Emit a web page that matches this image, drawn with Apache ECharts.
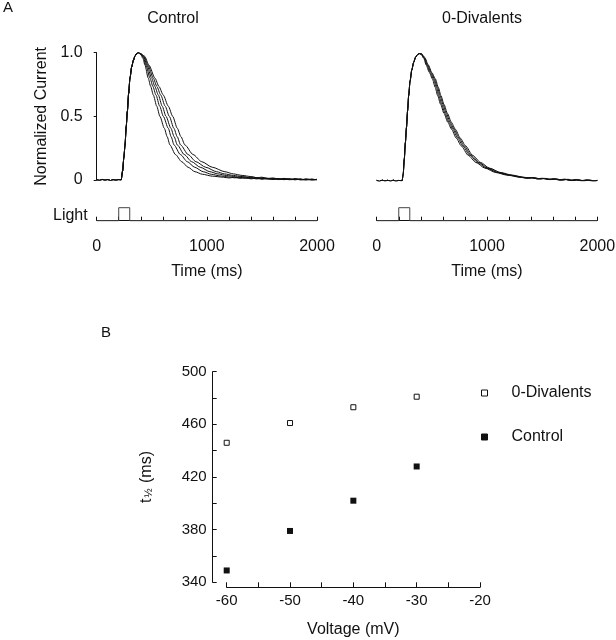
<!DOCTYPE html>
<html><head><meta charset="utf-8">
<script src="https://cdn.jsdelivr.net/npm/echarts@6/dist/echarts.min.js"></script>
<style>html,body{margin:0;padding:0;background:#fff}#c{width:616px;height:640px}</style>
</head><body><div id="c"></div>
<script>
const FONT = '"Liberation Sans", Arial, Helvetica, sans-serif';
const INK = '#111';

// ---------- Panel A: light stimulus (time ms, on/off) ----------
const lightStep = [[0,0],[200,0],[200,1],[300,1],[300,0],[2000,0]];

// ---------- Panel A: Control traces (time ms, normalized current) ----------
const controlRise = [[0,0.002],[25,-0.003],[50,0.004],[75,-0.002],[100,0.003],[125,-0.004],[150,0.002],[175,-0.002],[200,0.003],[222,0],[235,0.07],[247,0.18],[257,0.275],[268,0.42],[278,0.537],[290,0.68],[302,0.80],[318,0.89],[333,0.94],[348,0.975],[363,0.993],[378,1.0]];
const control1 = [[400,0.985],[420,0.955],[438,0.903],[468,0.80],[490,0.735],[514,0.668],[545,0.58],[574,0.5],[614,0.406],[640,0.34],[665,0.275],[715,0.2],[771,0.144],[830,0.1],[892,0.065],[960,0.045],[1050,0.03],[1150,0.022],
  [1200,0.016],[1250,0.021],[1300,0.013],[1350,0.017],[1400,0.009],[1450,0.014],[1500,0.006],[1550,0.012],[1600,0.004],[1650,0.01],[1700,0.002],[1750,0.009],[1800,0.001],[1850,0.008],[1900,-0.002],[1950,0.006],[2000,0.0]];
const control2 = [[400,0.99],[422,0.965],[447,0.903],[484,0.80],[510,0.735],[538,0.668],[572,0.58],[605,0.5],[650,0.406],[676,0.34],[702,0.275],[760,0.2],[822,0.144],[890,0.1],[967,0.065],[1040,0.045],[1120,0.032],[1200,0.024],
  [1250,0.017],[1300,0.022],[1350,0.013],[1400,0.018],[1450,0.008],[1500,0.015],[1550,0.006],[1600,0.011],[1650,0.003],[1700,0.009],[1750,0.001],[1800,0.008],[1850,0.0],[1900,0.006],[1950,-0.002],[2000,0.004]];
const control3 = [[400,0.99],[426,0.968],[456,0.903],[499,0.80],[528,0.735],[559,0.668],[595,0.58],[629,0.5],[674,0.406],[703,0.34],[732,0.275],[795,0.2],[862,0.144],[940,0.1],[1028,0.065],[1100,0.048],[1180,0.035],[1260,0.026],
  [1300,0.021],[1350,0.024],[1400,0.014],[1450,0.018],[1500,0.009],[1550,0.014],[1600,0.005],[1650,0.011],[1700,0.003],[1750,0.01],[1800,0.001],[1850,0.008],[1900,0.0],[1950,0.007],[2000,0.001]];
const control4 = [[400,0.992],[430,0.97],[465,0.903],[514,0.80],[546,0.735],[581,0.668],[622,0.58],[659,0.5],[701,0.406],[731,0.34],[762,0.275],[830,0.2],[901,0.144],[990,0.1],[1089,0.065],[1160,0.048],[1240,0.036],[1320,0.027],
  [1370,0.02],[1420,0.023],[1470,0.013],[1520,0.017],[1570,0.008],[1620,0.013],[1670,0.004],[1720,0.011],[1770,0.002],[1820,0.009],[1870,-0.001],[1920,0.007],[1970,0.0],[2000,0.005]];
const control5 = [[400,0.993],[435,0.972],[474,0.903],[529,0.80],[565,0.735],[604,0.668],[650,0.58],[690,0.5],[732,0.406],[765,0.34],[801,0.275],[875,0.2],[953,0.144],[1050,0.1],[1164,0.065],[1240,0.048],[1320,0.036],[1400,0.027],
  [1450,0.018],[1500,0.022],[1550,0.012],[1600,0.016],[1650,0.007],[1700,0.013],[1750,0.003],[1800,0.011],[1850,0.001],[1900,0.009],[1950,-0.001],[2000,0.006]];

// ---------- Panel A: 0-Divalents traces ----------
const divRise = [[0,0.003],[25,-0.004],[50,0.005],[75,-0.002],[100,0.004],[125,-0.003],[150,0.005],[175,-0.004],[200,0.003],[230,0],[240,0.05],[250,0.17],[260,0.3],[270,0.42],[280,0.55],[290,0.67],[302,0.78],[318,0.87],[335,0.93],[352,0.97],[368,0.99],[385,1.0]];
const div1 = [[405,0.99],[428,0.96],[448,0.91],[478,0.85],[505,0.80],[530,0.735],[553,0.668],[580,0.6],[610,0.53],[645,0.46],[678,0.406],[722,0.335],[766,0.275],[830,0.2],[900,0.144],[980,0.1],[1080,0.065],[1180,0.045],[1300,0.028],
  [1350,0.022],[1400,0.025],[1450,0.016],[1500,0.02],[1550,0.011],[1600,0.016],[1650,0.007],[1700,0.013],[1750,0.003],[1800,0.01],[1850,0.0],[1900,0.008],[1950,-0.003],[2000,0.004]];
const div2 = [[405,0.995],[430,0.965],[455,0.91],[486,0.85],[515,0.80],[541,0.735],[563,0.668],[590,0.6],[620,0.53],[655,0.46],[690,0.406],[735,0.335],[780,0.275],[845,0.2],[915,0.144],[995,0.1],[1095,0.065],[1195,0.045],[1310,0.028],
  [1360,0.02],[1410,0.024],[1460,0.014],[1510,0.019],[1560,0.01],[1610,0.015],[1660,0.005],[1710,0.012],[1760,0.002],[1810,0.009],[1860,-0.002],[1910,0.006],[1960,-0.004],[2000,0.003]];
const div3 = [[405,0.995],[432,0.965],[462,0.91],[494,0.85],[524,0.80],[550,0.735],[574,0.668],[601,0.6],[631,0.53],[666,0.46],[701,0.406],[747,0.335],[792,0.275],[857,0.2],[928,0.144],[1008,0.1],[1110,0.065],[1210,0.045],[1320,0.028],
  [1370,0.021],[1420,0.025],[1470,0.015],[1520,0.019],[1570,0.009],[1620,0.015],[1670,0.006],[1720,0.011],[1770,0.001],[1820,0.009],[1870,-0.001],[1920,0.007],[1970,-0.003],[2000,0.002]];
const div4 = [[405,1.0],[435,0.97],[468,0.91],[500,0.85],[532,0.80],[558,0.735],[583,0.668],[610,0.6],[641,0.53],[677,0.46],[712,0.406],[758,0.335],[805,0.275],[870,0.2],[942,0.144],[1022,0.1],[1125,0.065],[1225,0.045],[1335,0.028],
  [1385,0.022],[1435,0.024],[1485,0.014],[1535,0.019],[1585,0.01],[1635,0.014],[1685,0.005],[1735,0.012],[1785,0.002],[1835,0.008],[1885,-0.002],[1935,0.006],[1985,-0.003],[2000,0.001]];

// ---------- Panel B ----------
const voltages = [-60, -50, -40, -30];
const t12Divalents = [446, 461, 473, 481];
const t12Control = [349, 379, 402, 428];

// tick labels
const currentTickLabels = {0: '0', 0.5: '0.5', 1: '1.0'};
const timeTickLabels = ['0', '1000', '2000'];
const voltTickLabels = ['-60', '-50', '-40', '-30', '-20'];
const t12TickLabels = ['340', '380', '420', '460', '500'];

const controlTraces = [control1, control2, control3, control4, control5];
const divTraces = [div1, div2, div3, div4];

const axisLineStyle = {color: INK, width: 1};
const txt = {color: INK, fontFamily: FONT};

function traceSeries(rise, trace, gi) {
  return {type: 'line', xAxisIndex: gi, yAxisIndex: gi, data: rise.concat(trace),
    showSymbol: false, symbol: 'none', smooth: 0.25, smoothMonotone: 'x',
    lineStyle: {color: INK, width: 1}, silent: true, z: 3};
}
function lightSeries(gi) {
  return {type: 'line', xAxisIndex: gi, yAxisIndex: gi, data: lightStep, showSymbol: false, symbol: 'none',
    lineStyle: {color: '#444', width: 1}, silent: true, clip: false};
}
function timeAxis(gi, show) {
  return {type: 'value', gridIndex: gi, min: 0, max: 2000, interval: 200, show: show,
    offset: 12,
    axisLine: {show: true, lineStyle: axisLineStyle},
    axisTick: {show: true, inside: true, length: 4, lineStyle: axisLineStyle},
    axisLabel: {show: true, margin: 6, fontSize: 16, ...txt,
      formatter: v => (v % 1000 === 0 ? timeTickLabels[v / 1000] : '')},
    splitLine: {show: false},
    name: 'Time (ms)', nameLocation: 'middle', nameGap: 31,
    nameTextStyle: {fontSize: 16, ...txt}};
}
function hiddenX(gi) {
  return {type: 'value', gridIndex: gi, min: 0, max: 2000, show: false, splitLine: {show: false}};
}
function hiddenY(gi, min, max) {
  return {type: 'value', gridIndex: gi, min: min, max: max, show: false, splitLine: {show: false}};
}

const series = [];
controlTraces.forEach(t => series.push(traceSeries(controlRise, t, 0)));
series.push(lightSeries(1));
divTraces.forEach(t => series.push(traceSeries(divRise, t, 2)));
series.push(lightSeries(3));
series.push({name: '0-Divalents', type: 'scatter', xAxisIndex: 4, yAxisIndex: 4,
  data: voltages.map((v, i) => [v, t12Divalents[i]]), symbol: 'rect', symbolSize: 5,
  itemStyle: {color: '#fff', borderColor: INK, borderWidth: 1, opacity: 1}});
series.push({name: 'Control', type: 'scatter', xAxisIndex: 4, yAxisIndex: 4,
  data: voltages.map((v, i) => [v, t12Control[i]]), symbol: 'rect', symbolSize: 6,
  itemStyle: {color: INK, borderColor: INK, borderWidth: 0, opacity: 1}});

const chart = echarts.init(document.getElementById('c'), null, {renderer: 'canvas'});
chart.setOption({
  animation: false,
  backgroundColor: '#fff',
  textStyle: {fontFamily: FONT, color: INK},
  grid: [
    {left: 96.7, top: 52.7, width: 220.3, height: 127.3, outerBoundsMode: 'none'},
    {left: 96.7, top: 207.7, width: 220.3, height: 13, outerBoundsMode: 'none'},
    {left: 376.7, top: 53.5, width: 220.6, height: 127.3, outerBoundsMode: 'none'},
    {left: 376.7, top: 207.7, width: 220.6, height: 13, outerBoundsMode: 'none'},
    {left: 226.7, top: 371.7, width: 253.3, height: 210.6, outerBoundsMode: 'none'}
  ],
  xAxis: [
    hiddenX(0), timeAxis(1, true), hiddenX(2), timeAxis(3, true),
    {type: 'value', gridIndex: 4, min: -60, max: -20, interval: 5, offset: 5,
      axisLine: {show: true, lineStyle: axisLineStyle},
      axisTick: {show: true, inside: true, length: 5, lineStyle: axisLineStyle},
      axisLabel: {margin: 6, fontSize: 15, ...txt,
        formatter: v => (v % 10 === 0 ? voltTickLabels[(v + 60) / 10] : '')},
      splitLine: {show: false},
      name: 'Voltage (mV)', nameLocation: 'middle', nameGap: 34,
      nameTextStyle: {fontSize: 16, ...txt}}
  ],
  yAxis: [
    {type: 'value', gridIndex: 0, min: 0, max: 1, interval: 0.5, offset: 8,
      axisLine: {show: true, lineStyle: axisLineStyle},
      axisTick: {show: true, inside: false, length: 3, lineStyle: axisLineStyle},
      axisLabel: {margin: 6, fontSize: 16, ...txt, formatter: v => currentTickLabels[v]},
      splitLine: {show: false},
      name: 'Normalized Current', nameLocation: 'middle', nameGap: 39,
      nameTextStyle: {fontSize: 16, ...txt}},
    hiddenY(1, 0, 1),
    hiddenY(2, 0, 1),
    hiddenY(3, 0, 1),
    {type: 'value', gridIndex: 4, min: 340, max: 500, interval: 20, offset: 14,
      axisLine: {show: true, lineStyle: axisLineStyle},
      axisTick: {show: true, inside: true, length: 4, lineStyle: axisLineStyle},
      axisLabel: {margin: 6, fontSize: 15, ...txt,
        formatter: v => ((v - 340) % 40 === 0 ? t12TickLabels[(v - 340) / 40] : '')},
      splitLine: {show: false},
      name: '{t|t}{s|½}{t| (ms)}', nameLocation: 'middle', nameGap: 58,
      nameTextStyle: {fontSize: 16, ...txt,
        rich: {t: {fontSize: 16, fontFamily: FONT, color: INK, lineHeight: 18, verticalAlign: 'bottom'},
               s: {fontSize: 11, fontFamily: FONT, color: INK, lineHeight: 10, verticalAlign: 'bottom', padding: [0, 1, 0, 1]}}}}
  ],
  legend: {show: true, orient: 'vertical', left: 476, top: 380, itemWidth: 6, itemHeight: 6, itemGap: 28,
    data: ['0-Divalents', 'Control'], selectedMode: false,
    itemStyle: {borderWidth: 1},
    textStyle: {fontSize: 16, color: INK, fontFamily: FONT, padding: [0, 0, 0, 19]}},
  graphic: [
    {type: 'text', x: 8, y: 8, style: {text: 'A', fontSize: 15, fontFamily: FONT, fill: INK, textAlign: 'center', textVerticalAlign: 'middle'}},
    {type: 'text', x: 106, y: 332.5, style: {text: 'B', fontSize: 15, fontFamily: FONT, fill: INK, textAlign: 'center', textVerticalAlign: 'middle'}},
    {type: 'text', x: 173, y: 19, style: {text: 'Control', fontSize: 16, fontFamily: FONT, fill: INK, textAlign: 'center', textVerticalAlign: 'middle'}},
    {type: 'text', x: 482, y: 19, style: {text: '0-Divalents', fontSize: 16, fontFamily: FONT, fill: INK, textAlign: 'center', textVerticalAlign: 'middle'}},
    {type: 'text', x: 53, y: 216, style: {text: 'Light', fontSize: 16, fontFamily: FONT, fill: INK, textAlign: 'left', textVerticalAlign: 'middle'}}
  ],
  series: series
});
</script></body></html>
